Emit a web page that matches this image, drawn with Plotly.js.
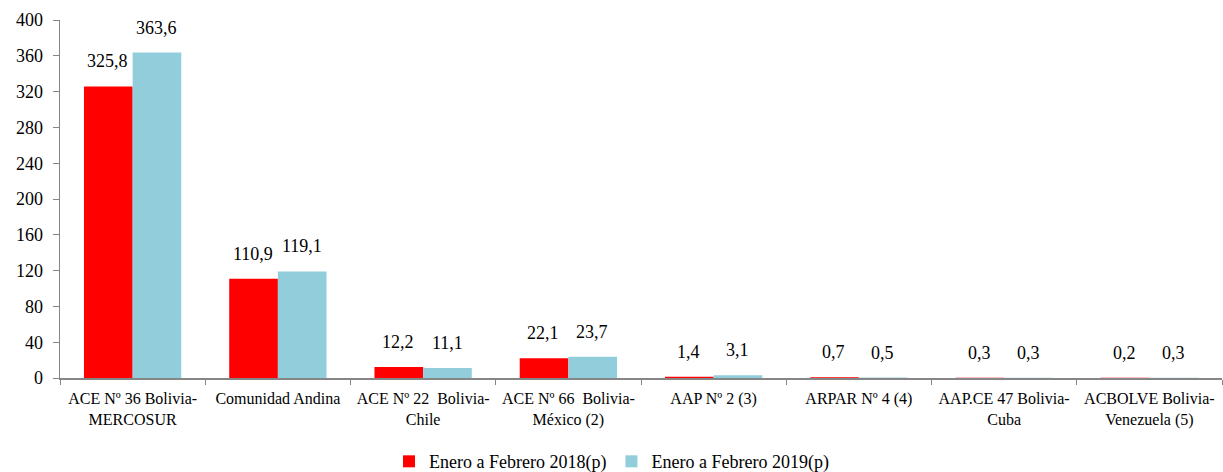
<!DOCTYPE html>
<html><head><meta charset="utf-8">
<script src="https://cdn.plot.ly/plotly-3.0.1.min.js"></script>
<style>html,body{margin:0;padding:0;background:#fff}#c{width:1223px;height:472px}</style>
</head><body><div id="c"></div>
<script>
const categories = ["ACE Nº 36 Bolivia-<br>MERCOSUR","Comunidad Andina","ACE Nº 22  Bolivia-<br>Chile","ACE Nº 66  Bolivia-<br>México (2)","AAP Nº 2 (3)","ARPAR Nº 4 (4)","AAP.CE 47 Bolivia-<br>Cuba","ACBOLVE Bolivia-<br>Venezuela (5)"];
const series2018 = [325.8,110.9,12.2,22.1,1.4,0.7,0.3,0.2];
const series2019 = [363.6,119.1,11.1,23.7,3.1,0.5,0.3,0.3];
const name2018 = "Enero a Febrero 2018(p)";
const name2019 = "Enero a Febrero 2019(p)";
const yTicks = [0,40,80,120,160,200,240,280,320,360,400];

const font = "'Liberation Serif', 'DejaVu Serif', serif";
const fmt = v => v.toFixed(1).replace('.', ',');
const annotations = [];
categories.forEach((c,i)=>{
  annotations.push({x:c,y:series2018[i],xref:'x',yref:'y',text:fmt(series2018[i]),showarrow:false,xshift:-25,yshift:13,yanchor:'bottom',font:{family:font,size:18,color:'#000'}});
  annotations.push({x:c,y:series2019[i],xref:'x',yref:'y',text:fmt(series2019[i]),showarrow:false,xshift:24,yshift:13,yanchor:'bottom',font:{family:font,size:18,color:'#000'}});
});

Plotly.newPlot('c',[
  {type:'bar',x:categories,y:series2018,name:name2018,marker:{color:'#FF0000'},hoverinfo:'none'},
  {type:'bar',x:categories,y:series2019,name:name2019,marker:{color:'#92CDDC'},hoverinfo:'none'}
],{
  width:1223,height:472,
  margin:{l:60,r:1,t:20,b:94},
  paper_bgcolor:'#fff',plot_bgcolor:'#fff',
  barmode:'group',bargap:0.33,bargroupgap:0,
  font:{family:font,color:'#000'},
  xaxis:{type:'category',range:[-0.5,7.5],tickson:'boundaries',ticks:'outside',ticklen:5,tickcolor:'#868686',showline:true,linecolor:'#868686',linewidth:1.5,showgrid:false,tickfont:{family:font,size:16,color:'#000'},ticklabelstandoff:5,automargin:false},
  yaxis:{range:[0,400],tickvals:yTicks,ticks:'outside',ticklen:6,tickcolor:'#868686',showline:true,linecolor:'#868686',linewidth:1.5,showgrid:false,zeroline:false,tickfont:{family:font,size:18,color:'#000'},ticklabelstandoff:6,automargin:false},
  showlegend:true,
  legend:{orientation:'h',x:0.5,xanchor:'center',xref:'container',yref:'container',y:0.022,yanchor:'middle',font:{family:font,size:18,color:'#000'},traceorder:'normal'},
  annotations:annotations
},{staticPlot:true,displayModeBar:false});
</script></body></html>
